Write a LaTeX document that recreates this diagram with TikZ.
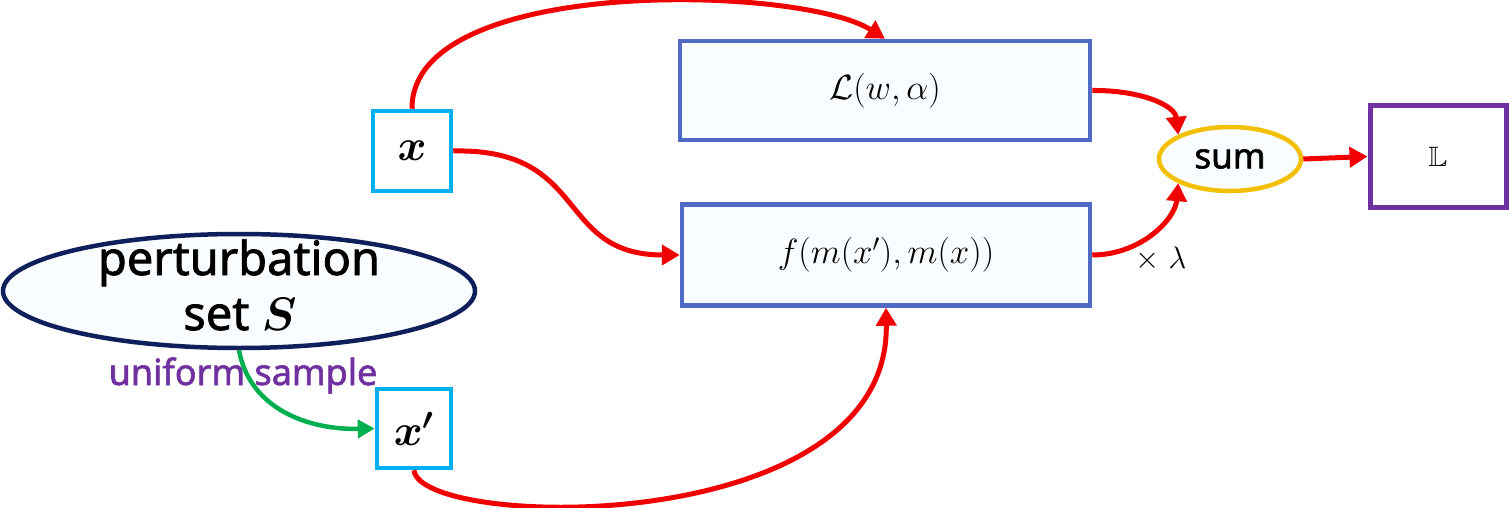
\RequirePackage{fix-cm}
\documentclass[tikz,border=0pt]{standalone}
\usepackage{fontspec}
\usepackage{amsmath,amssymb,bm}
\newfontfamily\yh{Noto Sans}[FakeBold=1.6]
\usetikzlibrary{arrows.meta,shapes.geometric}
\definecolor{cred}{HTML}{F00000}
\definecolor{ccyan}{HTML}{00B0F0}
\definecolor{cblue}{HTML}{4F6BC6}
\definecolor{cnavy}{HTML}{0F1F5C}
\definecolor{cgold}{HTML}{F2C000}
\definecolor{cpurple}{HTML}{7030A0}
\definecolor{cgreen}{HTML}{00B050}
\definecolor{cfill}{HTML}{FAFDFF}
\tikzset{
  mathbox/.style={draw=cblue, line width=4.5pt, fill=cfill, rectangle, inner sep=0pt, font=\fontsize{35}{40}\selectfont},
  varbox/.style={draw=ccyan, line width=4.5pt, fill=white, rectangle, inner sep=0pt, font=\fontsize{44}{50}\selectfont},
  redarrow/.style={draw=cred, line width=5pt, -{Triangle[length=18pt,width=20pt]}},
  greenarrow/.style={draw=cgreen, line width=4.5pt, -{Triangle[length=17pt,width=18pt]}},
}
\begin{document}
\begin{tikzpicture}[x=1pt,y=-1pt]
\useasboundingbox (0,0) rectangle (1509,508);
% perturbation set
\node[ellipse, draw=cnavy, line width=4.5pt, fill=cfill, minimum width=472pt, minimum height=114pt, inner sep=0pt] (P) at (239,291) {};
\node[font=\yh\fontsize{47}{55}\selectfont, anchor=base] (Pt1) at (239,275) {perturbation};
\node[font=\yh\fontsize{47}{55}\selectfont, anchor=base] (Pt2) at (240,330) {set $\bm{S}$};
\node[font=\yh\fontsize{36}{40}\selectfont, text=cpurple, anchor=base] (U) at (243,385) {uniform sample};
% variable boxes
\node[varbox, minimum width=78pt, minimum height=80pt] (X) at (412,151) {$\bm{x}$};
\node[varbox, minimum width=74pt, minimum height=79pt] (Xp) at (414,428.5) {$\bm{x'}$};
% loss boxes
\node[mathbox, minimum width=410pt, minimum height=99pt] (L) at (885,90.5) {$\mathcal{L}(w,\alpha)$};
\node[mathbox, minimum width=408pt, minimum height=101pt] (F) at (886,255) {$f(m(x'),m(x))$};
% sum
\node[ellipse, draw=cgold, line width=4.5pt, fill=cfill, minimum width=142pt, minimum height=64pt, inner sep=0pt, font=\yh\fontsize{35}{40}\selectfont] (S) at (1230,159) {sum};
% result
\node[rectangle, draw=cpurple, line width=5pt, fill=white, minimum width=136pt, minimum height=101pt, inner sep=0pt, font=\fontsize{28}{32}\selectfont] (R) at (1438,156.5) {$\mathbb{L}$};
\node[font=\fontsize{31}{36}\selectfont, anchor=base] (lam) at (1161,268) {$\times\;\lambda$};
% connectors
\draw[redarrow] (X.north) .. controls (411,-25) and (800,-15) .. (L.north);
\draw[redarrow] (X.east) .. controls (590,148) and (555,255) .. (F.west);
\draw[redarrow] (Xp.south) .. controls (420,530) and (890,540) .. (F.south);
\draw[redarrow] (L.east) .. controls (1140,90) and (1175,105) .. (S.north west);
\draw[redarrow] (F.east) .. controls (1140,255) and (1175,220) .. (S.south west);
\draw[redarrow] (S.east) -- (R.west);
\draw[greenarrow] (P.south) .. controls (250,410) and (310,430) .. (Xp.west);
\end{tikzpicture}
\end{document}
